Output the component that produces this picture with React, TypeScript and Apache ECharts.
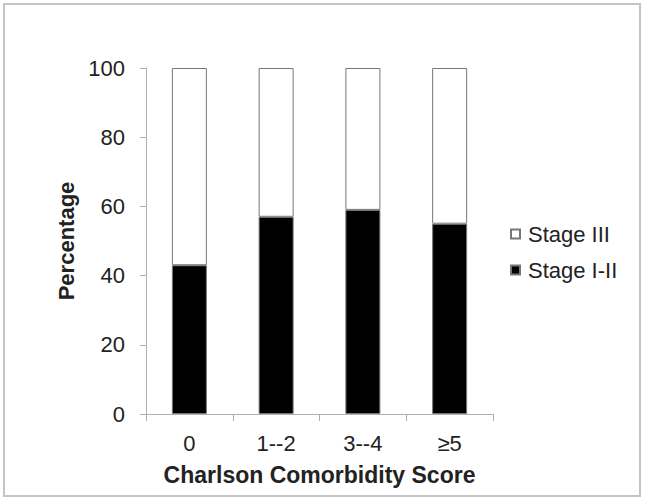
import React, { useEffect, useRef } from "react";
import * as echarts from "echarts";

const categories = ["0", "1--2", "3--4", "≥5"];
const stageI_II = [43, 57, 59, 55];
const stageIII = [57, 43, 41, 45];
const seriesNames = ["Stage I-II", "Stage III"];
const yTitle = "Percentage";
const xTitle = "Charlson Comorbidity Score";

const FONT = "'Liberation Sans', Arial, Helvetica, sans-serif";

export default function App() {
  const ref = useRef<HTMLDivElement>(null);
  useEffect(() => {
    if (!ref.current) return;
    const chart = echarts.init(ref.current, undefined, { renderer: "svg" });
    chart.setOption({
      animation: false,
      backgroundColor: "#ffffff",
      textStyle: { fontFamily: FONT },
      graphic: [
        {
          type: "rect",
          shape: { x: 4, y: 4, width: 636, height: 492 },
          style: { fill: "none", stroke: "#c4c4c4", lineWidth: 2 },
          silent: true,
        },
      ],
      grid: { left: 146, right: 152, top: 68, bottom: 89, containLabel: false },
      legend: {
        orient: "vertical",
        left: 510,
        top: 223,
        padding: 0,
        icon: "rect",
        itemWidth: 9,
        itemHeight: 9,
        itemGap: 14,
        data: [seriesNames[1], seriesNames[0]],
        textStyle: { fontSize: 22, color: "#222", fontFamily: FONT, padding: [0, 0, 0, 3] },
        selectedMode: false,
      },
      xAxis: {
        type: "category",
        data: categories,
        boundaryGap: true,
        axisLine: { show: true, lineStyle: { color: "#b0b0b0", width: 1 } },
        axisTick: { show: true, length: 7, interval: 0, lineStyle: { color: "#b0b0b0" } },
        axisLabel: { fontSize: 22, color: "#222", margin: 18, fontFamily: FONT },
        name: xTitle,
        nameLocation: "middle",
        nameGap: 49,
        nameTextStyle: { fontSize: 23, fontWeight: "bold", color: "#222", fontFamily: FONT },
      },
      yAxis: {
        type: "value",
        min: 0,
        max: 100,
        interval: 20,
        splitLine: { show: false },
        axisLine: { show: true, lineStyle: { color: "#b0b0b0", width: 1 } },
        axisTick: { show: true, length: 6, lineStyle: { color: "#b0b0b0" } },
        axisLabel: { fontSize: 22, color: "#222", margin: 21, fontFamily: FONT },
        name: yTitle,
        nameLocation: "middle",
        nameGap: 64,
        nameTextStyle: { fontSize: 22, fontWeight: "bold", color: "#222", fontFamily: FONT },
      },
      series: [
        {
          name: seriesNames[0],
          type: "bar",
          stack: "total",
          barWidth: 35,
          data: stageI_II,
          itemStyle: { color: "#000000", borderColor: "#777", borderWidth: 1 },
        },
        {
          name: seriesNames[1],
          type: "bar",
          stack: "total",
          barWidth: 35,
          data: stageIII,
          itemStyle: { color: "#ffffff", borderColor: "#777", borderWidth: 1 },
        },
      ],
    });
    return () => chart.dispose();
  }, []);
  return (
    <div
      ref={ref}
      style={{ position: "fixed", left: 0, top: 0, width: 645, height: 503 }}
    />
  );
}
